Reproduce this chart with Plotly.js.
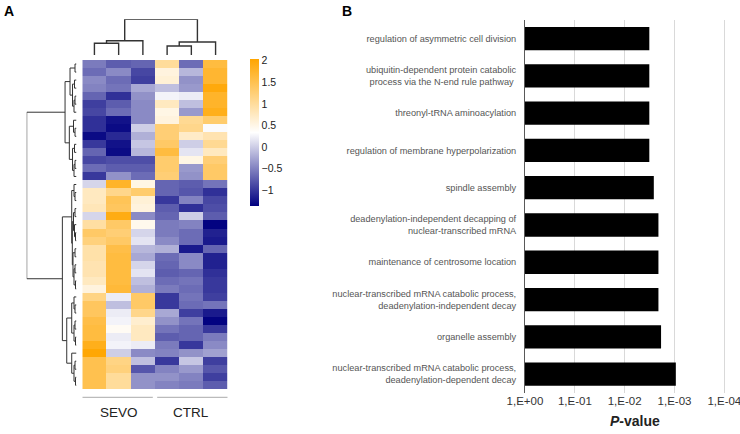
<!DOCTYPE html>
<html>
<head>
<meta charset="utf-8">
<script src="https://cdn.plot.ly/plotly-3.0.1.min.js"></script>
<style>html,body{margin:0;padding:0;background:#fff;}#chart{width:740px;height:434px;}</style>
</head>
<body>
<div id="chart"></div>
<script>
// ---------- Panel A data ----------
const sampleLabels = ['SEVO1','SEVO2','SEVO3','CTRL1','CTRL2','CTRL3'];
const groupNames = ['SEVO','CTRL'];
const groupStart = [0, 3];
const groupEnd = [2, 5];
const colorbarTicks = [-1, -0.5, 0, 0.5, 1, 1.5, 2];

// z-scores, one row per gene (display order, top to bottom)
const zRows = [
  [-0.55,-0.75,-0.70, 1.00,-0.65, 1.60],
  [-0.65,-0.45,-0.90, 0.55,-0.15, 1.70],
  [-0.45,-0.65,-0.95, 0.60,-0.40, 1.70],
  [-0.50,-0.60,-0.25,-0.10,-0.35, 1.95],
  [-0.70,-1.05,-0.40, 0.25, 0.20, 1.75],
  [-0.95,-0.75,-0.45, 0.75,-0.10, 1.75],
  [-0.90,-0.65,-0.45, 0.50,-0.35, 1.85],
  [-1.05,-1.25,-0.45, 0.55, 1.05, 1.30],
  [-1.05,-1.30, 0.00, 1.25, 1.10, 0.30],
  [-1.30,-1.10,-0.20, 1.25, 0.70, 0.85],
  [-1.00,-1.25,-0.05, 1.35, 0.00, 1.05],
  [-0.70,-1.30,-0.15, 1.60, 0.15, 0.75],
  [-0.90,-0.85,-0.85, 1.30, 0.50, 1.25],
  [-0.65,-0.75,-0.75, 1.30,-0.35, 1.35],
  [-1.00,-0.40,-0.65, 1.25,-0.40, 1.35],
  [ 0.05, 1.75, 0.50,-0.70,-0.75,-0.60],
  [ 0.75, 1.10, 1.30,-0.70,-0.80,-1.05],
  [ 0.75, 1.45, 0.60,-1.00,-0.50,-0.90],
  [ 0.80, 1.40, 0.55,-0.75,-1.05,-0.85],
  [ 0.05, 1.90,-0.45,-0.70, 0.00,-0.75],
  [ 0.95, 1.35, 0.45,-0.55,-0.50,-1.35],
  [ 1.35, 1.25, 0.05,-0.55,-0.65,-1.15],
  [ 1.20, 1.35, 0.15,-0.45,-0.65,-1.20],
  [ 0.90, 1.55,-0.15,-0.20,-1.20,-0.70],
  [ 0.90, 1.60,-0.25,-0.65,-0.45,-1.15],
  [ 0.85, 1.60, 0.05,-0.70,-0.45,-1.15],
  [ 0.85, 1.60, 0.15,-0.75,-0.70,-1.05],
  [ 0.75, 1.60,-0.10,-0.65,-0.60,-1.00],
  [ 0.55, 1.65,-0.20,-0.55,-0.65,-1.00],
  [ 1.15, 0.20, 1.35,-1.00,-0.60,-0.95],
  [ 1.40,-0.10, 1.35,-1.00,-0.65,-0.60],
  [ 1.40, 0.20, 1.10,-0.25,-0.95,-1.20],
  [ 1.55, 0.25, 0.65,-0.40,-0.60,-1.35],
  [ 1.60, 0.40, 0.75,-0.60,-0.70,-1.00],
  [ 1.60, 0.20, 0.75,-0.75,-0.70,-0.55],
  [ 1.85, 0.25, 0.20,-0.55,-1.00,-0.45],
  [ 2.00, 0.00,-0.45,-0.50,-0.40,-0.30],
  [ 1.50, 1.15,-0.10,-1.00,-0.05,-0.95],
  [ 1.50, 1.20,-0.80,-0.50,-0.35,-0.80],
  [ 1.50, 1.00,-0.40,-0.40,-0.50,-0.95],
  [ 1.50, 1.00,-0.40,-0.50,-0.55,-0.75]
];

// hierarchical clustering (scipy-like linkage: [childA, childB, height])
const colLinkage = [
  [0, 1, 11.7],
  [6, 2, 14.3],
  [3, 4, 9.0],
  [8, 5, 13.0],
  [7, 9, 35.7]
];
const rowLinkage = [
  [0,1,1.5],[2,3,2],[4,5,1.5],[43,6,2.5],[42,44,4],[41,45,6.5],
  [8,9,1.5],[7,47,3],[10,11,2],[12,13,1.5],[50,14,2.5],[49,51,4],[48,52,7.2],
  [46,53,11.5],
  [16,17,1.5],[15,55,2.5],[18,19,1.5],[21,22,1],[20,58,2],[57,59,3],
  [23,24,1.5],[25,26,1.5],[27,28,1],[62,63,2.5],[61,64,3.5],[60,65,4.2],[56,66,4.8],
  [30,31,1.5],[29,68,2.5],[32,33,1.5],[34,35,1],[70,71,2.5],[69,72,4.8],
  [37,38,1.5],[39,40,1],[74,75,2.5],[36,76,4.8],[73,77,9.8],
  [67,78,14.2],
  [54,79,50]
];

// ---------- Panel B data ----------
const goTerms = [
  'regulation of asymmetric cell division',
  'ubiquitin-dependent protein catabolic<br>process via the N-end rule pathway ',
  'threonyl-tRNA aminoacylation',
  'regulation of membrane hyperpolarization',
  'spindle assembly',
  'deadenylation-independent decapping of<br>nuclear-transcribed mRNA',
  'maintenance of centrosome location',
  'nuclear-transcribed mRNA catabolic process,<br>deadenylation-independent decay',
  'organelle assembly',
  'nuclear-transcribed mRNA catabolic process,<br>deadenylation-dependent decay'
];
const pValues = [3.2e-3, 3.2e-3, 3.2e-3, 3.2e-3, 2.6e-3, 2.1e-3, 2.1e-3, 2.1e-3, 1.86e-3, 9.4e-4];
const pTickValues = [1, 1e-1, 1e-2, 1e-3, 1e-4];
const pTickLabels = ['1,E+00', '1,E-01', '1,E-02', '1,E-03', '1,E-04'];

// ---------- helpers ----------
function dendro(linkage, n) {
  const pos = [], ht = [], P = [], H = [];
  for (let i = 0; i < n; i++) { pos[i] = i; ht[i] = 0; }
  linkage.forEach(([a, b, h], k) => {
    const id = n + k;
    pos[id] = (pos[a] + pos[b]) / 2; ht[id] = h;
    P.push(pos[a], pos[a], pos[b], pos[b], null);
    H.push(ht[a], h, h, ht[b], null);
  });
  return {P, H};
}
const W = 740, Hh = 434;
const fx = px => px / W;
const fy = py => 1 - py / Hh;

const nRows = zRows.length, nCols = sampleLabels.length;
const colD = dendro(colLinkage, nCols);
const rowD = dendro(rowLinkage, nRows);
const rowIdx = zRows.map((_, i) => i);
const colIdx = sampleLabels.map((_, i) => i);

const FONT = 'Liberation Sans, Arial, sans-serif';

const traces = [
  {
    type: 'heatmap', z: zRows, x: colIdx, y: rowIdx, xaxis: 'x', yaxis: 'y',
    zmin: -1.37, zmax: 2.03,
    colorscale: [[0, '#000080'], [0.5, '#ffffff'], [1, '#ffa500']],
    hoverinfo: 'skip',
    colorbar: {
      x: fx(250), xanchor: 'left', y: fy(59.3), yanchor: 'top',
      len: 147.4 / Hh, lenmode: 'fraction', thickness: 9, thicknessmode: 'pixels',
      outlinewidth: 0, xpad: 0, ypad: 0, tickvals: colorbarTicks, ticks: '',
      tickfont: {family: FONT, size: 10.5, color: '#222'}
    }
  },
  {
    type: 'scatter', mode: 'lines', x: colD.P, y: colD.H, xaxis: 'x', yaxis: 'y2',
    line: {color: '#333', width: 1.4}, hoverinfo: 'skip', showlegend: false
  },
  {
    type: 'scatter', mode: 'lines', x: rowD.H, y: rowD.P, xaxis: 'x3', yaxis: 'y',
    line: {color: '#333', width: 1}, hoverinfo: 'skip', showlegend: false
  },
  {
    type: 'bar', orientation: 'h', y: goTerms, x: pValues.map(p => -Math.log10(p)),
    xaxis: 'x4', yaxis: 'y4', marker: {color: '#000'}, hoverinfo: 'skip', showlegend: false
  }
];

const hidden = {showgrid: false, zeroline: false, showticklabels: false, ticks: '', showline: false};

const annotations = [
  {text: '<b>A</b>', x: fx(2), y: fy(1), xref: 'paper', yref: 'paper', xanchor: 'left', yanchor: 'top',
   showarrow: false, font: {family: FONT, size: 14, color: '#000'}},
  {text: '<b>B</b>', x: fx(340), y: fy(1), xref: 'paper', yref: 'paper', xanchor: 'left', yanchor: 'top',
   showarrow: false, font: {family: FONT, size: 14, color: '#000'}},
  {text: '<b><i>P</i>-value</b>', x: fx(635), y: fy(421), xref: 'paper', yref: 'paper',
   xanchor: 'center', yanchor: 'middle', showarrow: false, font: {family: FONT, size: 14, color: '#222'}}
];
const shapes = [];
groupNames.forEach((g, i) => {
  const x0 = groupStart[i] - 0.5 + (i === 0 ? 0 : 0.09);
  const x1 = groupEnd[i] + 0.5 - (i === 0 ? 0.09 : 0);
  shapes.push({type: 'line', xref: 'x', yref: 'paper', x0: x0, x1: x1, y0: fy(397.3), y1: fy(397.3),
    line: {color: '#aaa', width: 1}});
  annotations.push({text: g, xref: 'x', yref: 'paper', x: (groupStart[i] + groupEnd[i]) / 2, y: fy(412),
    xanchor: 'center', yanchor: 'middle', showarrow: false, font: {family: FONT, size: 13.5, color: '#222'}});
});

const decadePx = 49.83;
const xMax = 4.05;
const layout = {
  width: W, height: Hh, margin: {l: 0, r: 0, t: 0, b: 0}, paper_bgcolor: '#fff', plot_bgcolor: 'rgba(0,0,0,0)',
  showlegend: false, bargap: 0.375,
  font: {family: FONT},
  xaxis: Object.assign({domain: [fx(82.3), fx(227.7)], range: [-0.5, nCols - 0.5], anchor: 'y'}, hidden),
  yaxis: Object.assign({domain: [fy(389.3), fy(60)], range: [nRows - 0.5, -0.5], anchor: 'x'}, hidden),
  yaxis2: Object.assign({domain: [fy(55), fy(19.3)], range: [0, 35.7], anchor: 'x'}, hidden),
  xaxis3: Object.assign({domain: [fx(26.7), fx(76.5)], range: [50, 0], anchor: 'y'}, hidden),
  xaxis4: {
    domain: [fx(525), fx(525 + xMax * decadePx)], range: [0, xMax], anchor: 'y4',
    tickvals: pTickValues.map(p => -Math.log10(p)), ticktext: pTickLabels, ticks: '',
    ticklabeloverflow: 'allow',
    showgrid: true, gridcolor: '#d9d9d9', gridwidth: 1, zeroline: false, showline: false,
    tickfont: {family: FONT, size: 11.5, color: '#333'}
  },
  yaxis4: {
    domain: [fy(392.7), fy(20)], anchor: 'x4', autorange: 'reversed', type: 'category',
    showline: true, linecolor: '#595959', linewidth: 1, showgrid: false, zeroline: false,
    ticks: '', ticklabelstandoff: 6,
    tickfont: {family: FONT, size: 9.2, color: '#555'}
  },
  annotations: annotations,
  shapes: shapes
};

Plotly.newPlot('chart', traces, layout, {staticPlot: true, displayModeBar: false});
</script>
</body>
</html>
